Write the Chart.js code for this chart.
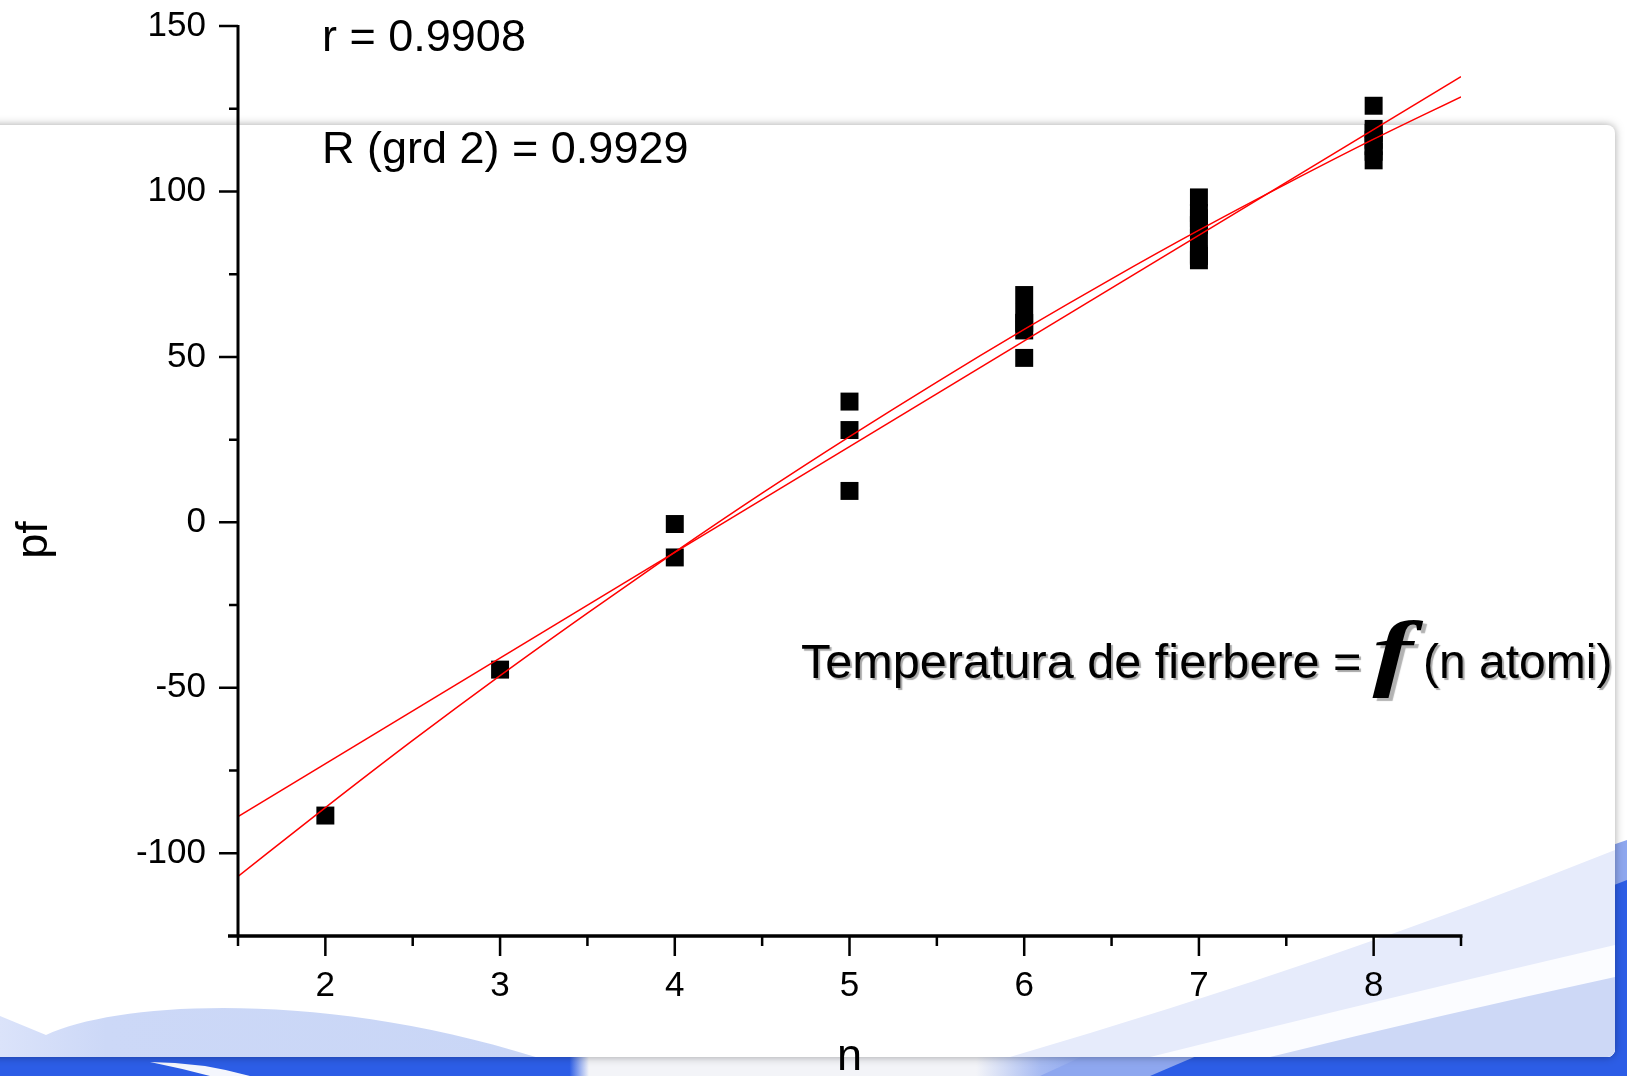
<!DOCTYPE html>
<html>
<head>
<meta charset="utf-8">
<title>Temperatura de fierbere = f (n atomi)</title>
<script src="https://cdn.jsdelivr.net/npm/chart.js@4.4.1/dist/chart.umd.min.js"></script>
<style>
  html, body { margin: 0; padding: 0; background: #fff; }
  #wrap { position: relative; width: 1627px; height: 1076px; overflow: hidden; }
  #bg { position: absolute; left: 0; top: 0; }
  #box { position: absolute; left: 0; top: 0; width: 1627px; height: 1076px; }
</style>
</head>
<body>
<div id="wrap">
  <canvas id="bg" width="1627" height="1076"></canvas>
  <div id="box"><canvas id="chart"></canvas></div>
</div>
<script>
// measured points: number of carbon atoms vs boiling point (pf)
const nAtoms = [2, 3, 4, 4, 5, 5, 5, 6, 6, 6, 6, 6,
                7, 7, 7, 7, 7, 7, 7, 7, 7,
                8, 8, 8, 8, 8, 8, 8];
const pfValues = [-88.6, -44.5, -0.5, -10.6, 36.5, 27.9, 9.5,
                  68.7, 63.3, 60.3, 58.0, 49.7,
                  98.2, 93.5, 91.9, 90.0, 89.8, 86.1, 80.9, 80.5, 79.2,
                  125.9, 118.9, 117.7, 115.6, 113.7, 112.0, 109.4];

// fitted lines
const linFitN = [1.5, 8.5];
const linFitPf = [-88.9, 134.7];
const quadFitN = [1.5, 2, 2.5, 3, 3.5, 4, 4.5, 5, 5.5, 6, 6.5, 7, 7.5, 8, 8.5];
const quadFitPf = [-107.0, -86.2, -65.9, -46.3, -27.4, -9.0, 8.8, 25.9, 42.4, 58.3, 73.6, 88.3, 102.3, 115.8, 128.6];

const xTicks = [2, 3, 4, 5, 6, 7, 8];
const yTicks = [-100, -50, 0, 50, 100, 150];

const W = 1627, H = 1076;
const FONT = '"Liberation Sans", Arial, Helvetica, sans-serif';

// slide background (panel + blue waves)
function drawBackdrop() {
  const g = document.getElementById('bg').getContext('2d');
  g.fillStyle = '#fff';
  g.fillRect(0, 0, W, H);

  // bottom band
  const band = g.createLinearGradient(0, 0, W, 0);
  band.addColorStop(0, '#2c5de6');
  band.addColorStop(0.35, '#2c5de6');
  band.addColorStop(0.362, '#f3f4f8');
  band.addColorStop(0.6, '#f3f4f8');
  band.addColorStop(0.64, '#a6baf2');
  band.addColorStop(0.76, '#3d68e7');
  band.addColorStop(1, '#2c5de6');
  g.fillStyle = band;
  g.fillRect(0, 1040, W, 36);

  g.fillStyle = '#f4f6fd';
  g.beginPath();
  g.moveTo(150, 1062);
  g.quadraticCurveTo(200, 1062, 250, 1076);
  g.lineTo(210, 1076);
  g.quadraticCurveTo(180, 1068, 150, 1062);
  g.fill();

  // waves behind the panel on the right
  g.fillStyle = '#8ea7ef';
  g.beginPath();
  g.moveTo(1040, 1076);
  g.quadraticCurveTo(1330, 940, W, 840);
  g.lineTo(W, H);
  g.closePath();
  g.fill();
  g.fillStyle = '#2c5de6';
  g.beginPath();
  g.moveTo(1150, 1076);
  g.quadraticCurveTo(1420, 960, W, 880);
  g.lineTo(W, H);
  g.closePath();
  g.fill();

  // white panel with shadow
  g.save();
  g.shadowColor = 'rgba(0,0,0,0.35)';
  g.shadowBlur = 9;
  g.beginPath();
  g.roundRect(-20, 125, 1635, 932, 8);
  g.fillStyle = '#fff';
  g.fill();
  g.restore();

  g.save();
  g.beginPath();
  g.roundRect(-20, 125, 1635, 932, 8);
  g.clip();

  g.fillStyle = '#e6ebfb';
  g.beginPath();
  g.moveTo(1010, 1057);
  g.quadraticCurveTo(1340, 960, 1615, 850);
  g.lineTo(1615, 1057);
  g.closePath();
  g.fill();

  g.fillStyle = '#fbfcff';
  g.beginPath();
  g.moveTo(1150, 1057);
  g.quadraticCurveTo(1400, 995, 1615, 945);
  g.lineTo(1615, 1057);
  g.closePath();
  g.fill();

  g.fillStyle = '#cdd8f6';
  g.beginPath();
  g.moveTo(1270, 1057);
  g.quadraticCurveTo(1440, 1015, 1615, 977);
  g.lineTo(1615, 1057);
  g.closePath();
  g.fill();

  const hump = g.createLinearGradient(0, 0, 530, 0);
  hump.addColorStop(0, '#dbe3fa');
  hump.addColorStop(0.2, '#ccd8f7');
  hump.addColorStop(1, '#c9d6f6');
  g.fillStyle = hump;
  g.beginPath();
  g.moveTo(0, 1016);
  g.lineTo(46, 1035);
  g.bezierCurveTo(120, 1000, 330, 990, 545, 1060);
  g.lineTo(0, 1060);
  g.closePath();
  g.fill();
  g.restore();
}

const axesPlugin = {
  id: 'axes',
  afterDatasetsDraw(chart) {
    const { ctx, chartArea: a, scales: { x, y } } = chart;
    ctx.save();
    ctx.strokeStyle = '#000';
    ctx.lineCap = 'butt';

    ctx.lineWidth = 3;
    ctx.beginPath();
    ctx.moveTo(a.left, a.top - 1);
    ctx.lineTo(a.left, a.bottom);
    ctx.stroke();
    ctx.lineWidth = 3.5;
    ctx.beginPath();
    ctx.moveTo(a.left - 10, a.bottom);
    ctx.lineTo(a.right + 1.5, a.bottom);
    ctx.stroke();

    ctx.lineWidth = 2.5;
    ctx.beginPath();
    x.ticks.forEach(t => {
      const px = x.getPixelForValue(t.value);
      const len = xTicks.includes(t.value) ? 20 : 10;
      ctx.moveTo(px, a.bottom);
      ctx.lineTo(px, a.bottom + len);
    });
    y.ticks.forEach(t => {
      if (t.value <= y.min) return;
      const py = y.getPixelForValue(t.value);
      const len = yTicks.includes(t.value) ? 19 : 9;
      ctx.moveTo(a.left, py);
      ctx.lineTo(a.left - len, py);
    });
    ctx.stroke();
    ctx.restore();
  },
  afterDraw(chart) {
    const ctx = chart.ctx;
    ctx.save();
    ctx.fillStyle = '#000';
    ctx.textBaseline = 'alphabetic';

    // fit coefficients
    ctx.font = '45px ' + FONT;
    ctx.textAlign = 'left';
    ctx.fillText('r = 0.9908', 322, 51);
    ctx.fillText('R (grd 2) = 0.9929', 322, 163);

    // axis titles
    ctx.font = '45px ' + FONT;
    ctx.textAlign = 'center';
    ctx.fillText('n', (chart.chartArea.left + chart.chartArea.right) / 2, 1070);
    ctx.save();
    ctx.translate(47, 540);
    ctx.rotate(-Math.PI / 2);
    ctx.fillText('pf', 0, 0);
    ctx.restore();

    // slide caption with shadow
    ctx.textAlign = 'left';
    ctx.shadowColor = 'rgba(0,0,0,0.35)';
    ctx.shadowOffsetX = 2;
    ctx.shadowOffsetY = 2;
    ctx.shadowBlur = 1;
    ctx.font = '48.6px ' + FONT;
    const part1 = 'Temperatura de fierbere =';
    ctx.fillText(part1, 801, 678);
    const fx = 801 + ctx.measureText(part1).width + 11;
    ctx.save();
    ctx.translate(fx, 680);
    ctx.scale(1.45, 1);
    ctx.font = 'italic bold 84px "Liberation Serif", "Times New Roman", serif';
    ctx.shadowOffsetX = 4;
    ctx.shadowOffsetY = 3;
    ctx.shadowColor = 'rgba(0,0,0,0.3)';
    ctx.fillText('f', 0, 0);
    ctx.restore();
    ctx.font = '48px ' + FONT;
    ctx.fillText('(n atomi)', 1423, 678);
    ctx.restore();
  }
};

drawBackdrop();

const pts = nAtoms.map((n, i) => ({ x: n, y: pfValues[i] }));
const linPts = linFitN.map((n, i) => ({ x: n, y: linFitPf[i] }));
const quadPts = quadFitN.map((n, i) => ({ x: n, y: quadFitPf[i] }));

new Chart(document.getElementById('chart'), {
  type: 'scatter',
  data: {
    datasets: [
      {
        label: 'linear',
        data: linPts,
        showLine: true,
        borderColor: '#ff0000',
        borderWidth: 1.5,
        pointRadius: 0
      },
      {
        label: 'grd 2',
        data: quadPts,
        showLine: true,
        borderColor: '#ff0000',
        borderWidth: 1.5,
        pointRadius: 0,
        cubicInterpolationMode: 'monotone'
      },
      {
        label: 'pf',
        data: pts,
        pointStyle: 'rect',
        pointRadius: 12.7,
        pointBorderWidth: 0,
        backgroundColor: '#000',
        borderColor: '#000'
      }
    ]
  },
  options: {
    responsive: true,
    maintainAspectRatio: false,
    animation: false,
    events: [],
    layout: { padding: { top: 26, right: 166, bottom: 0, left: 0 } },
    plugins: {
      legend: { display: false },
      tooltip: { enabled: false }
    },
    scales: {
      x: {
        type: 'linear',
        min: 1.5,
        max: 8.5,
        border: { display: false },
        grid: { display: false, drawTicks: true, tickLength: 20 },
        ticks: {
          stepSize: 0.5,
          autoSkip: false,
          maxRotation: 0,
          padding: 9,
          color: '#000',
          font: { family: FONT, size: 35 },
          callback: v => xTicks.includes(v) ? String(v) : ''
        },
        afterFit: s => { s.height = 140; s.paddingLeft = 0; s.paddingRight = 0; }
      },
      y: {
        type: 'linear',
        min: -125,
        max: 150,
        border: { display: false },
        grid: { display: false, drawTicks: true, tickLength: 20 },
        ticks: {
          stepSize: 25,
          autoSkip: false,
          padding: 12,
          color: '#000',
          font: { family: FONT, size: 35 },
          callback: v => yTicks.includes(v) ? String(v) : ''
        },
        afterFit: s => { s.width = 238; s.paddingTop = 0; s.paddingBottom = 0; }
      }
    }
  },
  plugins: [axesPlugin]
});
</script>
</body>
</html>
